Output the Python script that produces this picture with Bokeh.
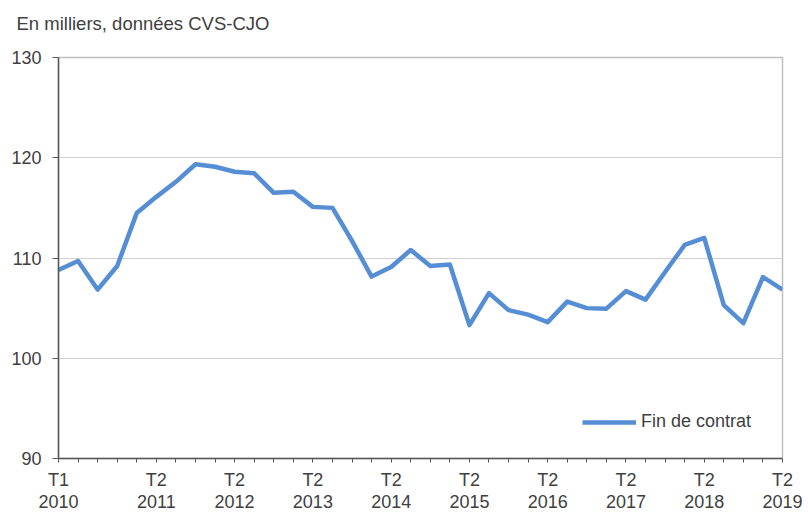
from bokeh.plotting import figure
from bokeh.models import Range1d, FixedTicker, Legend, LegendItem, ColumnDataSource
from bokeh.embed import file_html
from bokeh.resources import INLINE

quarters = [f"T{q} {y}" for y in range(2010, 2020) for q in (1, 2, 3, 4)][:38]
values = [108.8, 109.7, 106.85, 109.2, 114.5, 116.1, 117.6, 119.35, 119.1, 118.6,
          118.45, 116.5, 116.6, 115.1, 115.0, 111.7, 108.15, 109.1, 110.8, 109.2,
          109.35, 103.3, 106.5, 104.8, 104.35, 103.6, 105.65, 105.0, 104.95, 106.7,
          105.85, 108.6, 111.3, 112.0, 105.3, 103.5, 108.1, 106.85]
labelled_quarters = ["T1 2010", "T2 2011", "T2 2012", "T2 2013", "T2 2014",
                     "T2 2015", "T2 2016", "T2 2017", "T2 2018", "T2 2019"]
y_ticks = [90, 100, 110, 120, 130]
series_name = "Fin de contrat"
title_text = "En milliers, données CVS-CJO"

FONT = "Liberation Sans"
TXT = "#404040"
BLUE = "#558ED5"

idx = list(range(len(quarters)))
src = ColumnDataSource(dict(x=idx, y=values, q=quarters))

p = figure(width=808, height=514, output_backend="svg", toolbar_location=None,
           x_range=Range1d(0, len(quarters) - 1), y_range=Range1d(90, 130),
           min_border_left=58, min_border_right=26, min_border_top=57, min_border_bottom=55)

p.title.text = title_text + "\n "
p.title.text_font = FONT
p.title.text_font_size = "18.5px"
p.title.text_font_style = "normal"
p.title.text_color = TXT
p.title.align = "left"
p.title.offset = -42
p.title.standoff = 5

r = p.line("x", "y", source=src, line_color=BLUE, line_width=4.5, line_join="round")

# x axis
xa = p.xaxis[0]
xa.ticker = FixedTicker(ticks=idx)
xa.major_label_overrides = {i: (quarters[i].replace(" ", "\n") if quarters[i] in labelled_quarters else "") for i in idx}
xa.major_tick_out = 4
xa.major_tick_in = 0
xa.minor_tick_line_color = None
xa.axis_line_color = "#595959"
xa.axis_line_width = 1.5
xa.major_tick_line_color = "#595959"
xa.major_label_text_font = FONT
xa.major_label_text_font_size = "18px"
xa.major_label_text_color = TXT
xa.major_label_text_line_height = 1.1
xa.major_label_standoff = 7

ya = p.yaxis[0]
ya.ticker = FixedTicker(ticks=y_ticks)
ya.major_tick_out = 6
ya.major_tick_in = 0
ya.minor_tick_line_color = None
ya.axis_line_color = "#595959"
ya.axis_line_width = 1.5
ya.major_tick_line_color = "#595959"
ya.major_label_text_font = FONT
ya.major_label_text_font_size = "18px"
ya.major_label_text_color = TXT
ya.major_label_standoff = 11

p.xgrid.grid_line_color = None
p.ygrid.grid_line_color = "#d0d0d0"
p.ygrid.grid_line_width = 1.2
p.outline_line_color = "#c0c0c0"
p.outline_line_width = 1.5

legend = Legend(items=[LegendItem(label=series_name, renderers=[r])],
                location=(524, 26), orientation="vertical")
legend.padding = 0
legend.margin = 0
legend.border_line_color = None
legend.background_fill_alpha = 0
legend.glyph_width = 54
legend.glyph_height = 20
legend.label_standoff = 5
legend.label_text_font = FONT
legend.label_text_font_size = "18px"
legend.label_text_color = TXT
p.add_layout(legend, "center")

p.background_fill_color = "white"
p.border_fill_color = "white"

open("out.html", "w").write(file_html(p, INLINE))
